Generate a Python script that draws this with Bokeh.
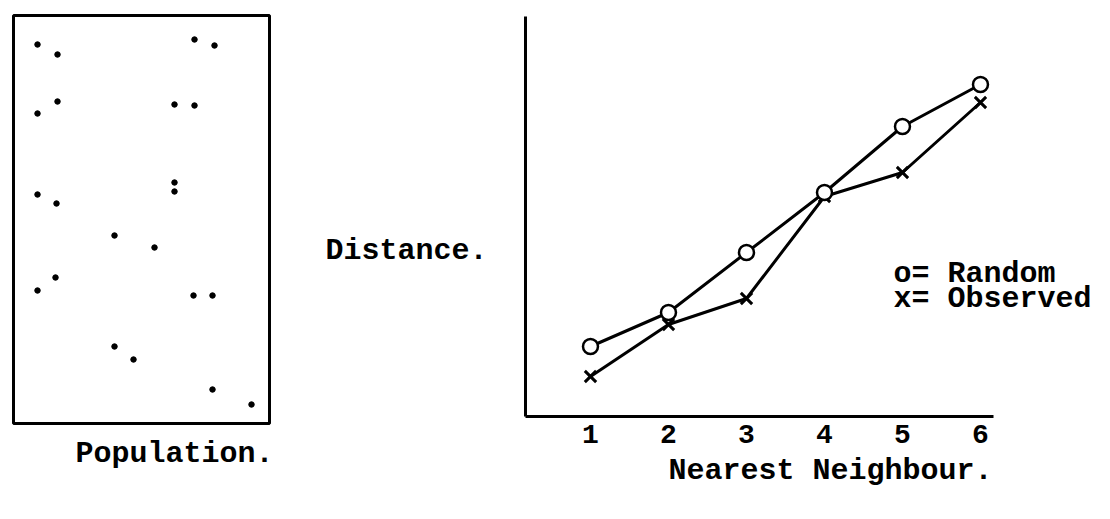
from bokeh.plotting import figure
from bokeh.models import Range1d, FixedTicker
from bokeh.core.properties import value
from bokeh.embed import file_html
from bokeh.resources import INLINE

# ---- data ----
# population map: point locations inside the study area (area 0..256 x 0..408)
pop_x = [24, 44, 181, 201, 44, 24, 161, 181, 24, 43, 161, 161, 101, 141,
         42, 24, 180, 199, 101, 120, 199, 238]
pop_y = [379, 369, 384, 378, 322, 310, 319, 318, 229, 220, 241, 232, 188, 176,
         146, 133, 128, 128, 77, 64, 34, 19]
area_w = 256
area_h = 408

neighbour = [1, 2, 3, 4, 5, 6]
random_dist = [1.75, 2.6, 4.1, 5.6, 7.25, 8.3]
observed_dist = [1.0, 2.3, 2.95, 5.5, 6.1, 7.85]
tick_labels = ["1", "2", "3", "4", "5", "6"]

FONT = "Liberation Mono"
FS = "30px"
TICK_FS = "28px"

W, H = 1110, 519

p = figure(width=W, height=H, output_backend="svg", toolbar_location=None,
           x_range=Range1d(-6.564, 7.667), y_range=Range1d(-2.575, 10.4),
           min_border=0, min_border_left=0, min_border_right=0,
           min_border_top=0, min_border_bottom=0)
p.extra_x_ranges = {"popx": Range1d(-13, 1097)}
p.extra_y_ranges = {"popy": Range1d(-96, 423)}
p.outline_line_color = None
p.grid.visible = False

# axes of the nearest-neighbour chart, drawn at the data origin
p.xaxis.fixed_location = 0
p.xaxis.bounds = (0.167, 6.167)
p.xaxis.ticker = FixedTicker(ticks=neighbour)
p.xaxis.major_label_overrides = {n: t for n, t in zip(neighbour, tick_labels)}
p.xaxis.major_tick_out = 0
p.xaxis.major_tick_in = 0
p.xaxis.minor_tick_out = 0
p.xaxis.minor_tick_in = 0
p.xaxis.major_label_standoff = 8
p.xaxis.major_label_text_font = FONT
p.xaxis.major_label_text_font_size = TICK_FS
p.xaxis.major_label_text_font_style = "bold"
p.xaxis.major_label_text_color = "black"
p.xaxis.axis_line_width = 3
p.xaxis.axis_line_color = "black"

p.yaxis.fixed_location = 0.167
p.yaxis.bounds = (0, 10.0)
p.yaxis.ticker = FixedTicker(ticks=[])
p.yaxis.major_tick_out = 0
p.yaxis.major_tick_in = 0
p.yaxis.minor_tick_out = 0
p.yaxis.minor_tick_in = 0
p.yaxis.axis_line_width = 3
p.yaxis.axis_line_color = "black"

# ---- population map ----
p.rect(x=[area_w / 2], y=[area_h / 2], width=[area_w], height=[area_h],
       fill_color=None, line_color="black", line_width=3,
       x_range_name="popx", y_range_name="popy")
p.scatter(pop_x, pop_y, size=5.5, color="black",
          x_range_name="popx", y_range_name="popy")
p.text(x=[62], y=[-30], text=["Population."], text_font=value(FONT),
       text_font_size=FS, text_font_style="bold", text_baseline="middle",
       text_color="black", x_range_name="popx", y_range_name="popy")

# ---- nearest neighbour chart ----
p.line(neighbour, random_dist, line_color="black", line_width=3)
p.line(neighbour, observed_dist, line_color="black", line_width=3)
p.scatter(neighbour, observed_dist, marker="x", size=16, line_color="black",
          line_width=3)
p.scatter(neighbour, random_dist, marker="circle", size=15, line_color="black",
          fill_color="white", line_width=2.5)

def txt(x, y, s, align="left"):
    p.text(x=[x], y=[y], text=[s], text_font=value(FONT), text_font_size=FS,
           text_font_style="bold", text_baseline="middle", text_align=align,
           text_color="black")

txt(-2.397, 4.15, "Distance.")
txt(4.885, 3.575, "o= Random")
txt(4.885, 2.95, "x= Observed")
txt(4.077, -1.35, "Nearest Neighbour.", align="center")

open("out.html", "w").write(file_html(p, INLINE))
